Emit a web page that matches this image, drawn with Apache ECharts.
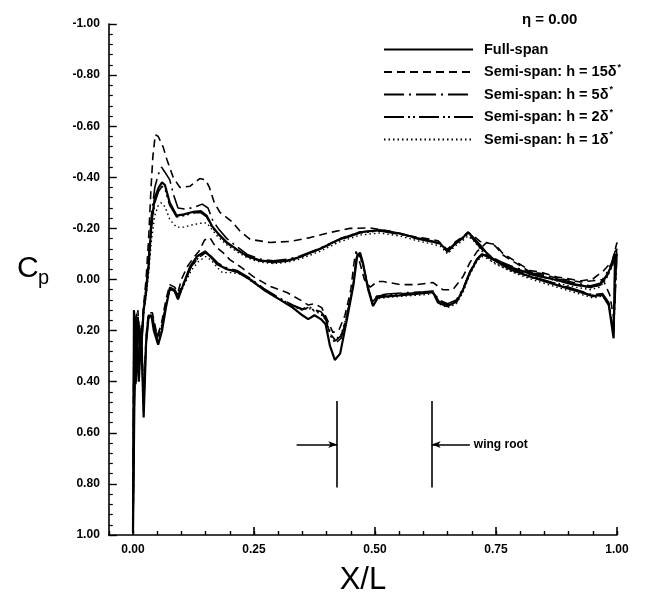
<!DOCTYPE html>
<html>
<head>
<meta charset="utf-8">
<script src="https://cdn.jsdelivr.net/npm/echarts@6/dist/echarts.min.js"></script>
<style>
  html, body { margin: 0; padding: 0; background: #fff; }
  #chart { width: 652px; height: 601px; }
</style>
</head>
<body>
<div id="chart"></div>
<script>
// 系列名称
var seriesNames = ['Full-span', 'Semi-span: h = 15δ*', 'Semi-span: h = 5δ*', 'Semi-span: h = 2δ*', 'Semi-span: h = 1δ*']
var xLabelValues = [0, 0.25, 0.5, 0.75, 1]

// [X/L, Cp]  upper / lower surface, leading edge -> trailing edge
var fullUpper = [[0, 0.99], [0.002, 0.12], [0.006, 0.40], [0.010, 0.15], [0.016, 0.30], [0.022, 0.12], [0.027, 0.05], [0.032, -0.05], [0.038, -0.22], [0.045, -0.32], [0.053, -0.36], [0.060, -0.38], [0.066, -0.37], [0.076, -0.30], [0.090, -0.25], [0.105, -0.255], [0.125, -0.265], [0.140, -0.268], [0.152, -0.25], [0.163, -0.21], [0.174, -0.184], [0.194, -0.145], [0.215, -0.117], [0.236, -0.092], [0.262, -0.075], [0.290, -0.068], [0.320, -0.075], [0.345, -0.088], [0.386, -0.12], [0.428, -0.158], [0.469, -0.185], [0.510, -0.193], [0.552, -0.18], [0.587, -0.162], [0.615, -0.150], [0.635, -0.14], [0.650, -0.11], [0.665, -0.14], [0.680, -0.16], [0.692, -0.185], [0.705, -0.16], [0.717, -0.135], [0.730, -0.105], [0.744, -0.08], [0.760, -0.065], [0.785, -0.045], [0.826, -0.02], [0.870, 0.0], [0.910, 0.018], [0.945, 0.03], [0.965, 0.02], [0.980, -0.02], [0.990, -0.06], [0.996, -0.10], [1.0, -0.10]]
var fullLower = [[0, 0.99], [0.003, 0.45], [0.007, 0.15], [0.012, 0.40], [0.017, 0.20], [0.022, 0.54], [0.027, 0.25], [0.032, 0.15], [0.038, 0.14], [0.043, 0.20], [0.052, 0.255], [0.060, 0.20], [0.068, 0.11], [0.076, 0.035], [0.086, 0.045], [0.093, 0.078], [0.100, 0.04], [0.108, 0.0], [0.118, -0.05], [0.132, -0.09], [0.149, -0.11], [0.160, -0.09], [0.174, -0.06], [0.194, -0.04], [0.215, -0.03], [0.242, 0.0], [0.270, 0.04], [0.300, 0.075], [0.330, 0.11], [0.350, 0.14], [0.362, 0.155], [0.375, 0.14], [0.388, 0.155], [0.398, 0.175], [0.407, 0.26], [0.417, 0.315], [0.428, 0.29], [0.442, 0.156], [0.455, 0.027], [0.463, -0.09], [0.469, -0.105], [0.475, -0.066], [0.486, 0.04], [0.496, 0.104], [0.506, 0.07], [0.525, 0.066], [0.550, 0.062], [0.590, 0.055], [0.620, 0.05], [0.630, 0.09], [0.649, 0.105], [0.669, 0.086], [0.682, 0.04], [0.696, -0.027], [0.711, -0.078], [0.721, -0.098], [0.731, -0.092], [0.744, -0.078], [0.760, -0.06], [0.785, -0.035], [0.820, -0.012], [0.855, 0.01], [0.890, 0.03], [0.925, 0.05], [0.950, 0.065], [0.970, 0.06], [0.983, 0.10], [0.993, 0.23], [1.0, -0.10]]

var h15Upper = [[0, 0.99], [0.002, 0.15], [0.006, 0.38], [0.010, 0.12], [0.016, 0.28], [0.022, 0.10], [0.027, 0.0], [0.032, -0.15], [0.037, -0.35], [0.041, -0.48], [0.046, -0.567], [0.052, -0.56], [0.062, -0.52], [0.070, -0.47], [0.083, -0.40], [0.097, -0.36], [0.118, -0.365], [0.138, -0.395], [0.150, -0.39], [0.158, -0.36], [0.168, -0.30], [0.180, -0.262], [0.204, -0.227], [0.221, -0.19], [0.242, -0.157], [0.283, -0.145], [0.324, -0.149], [0.366, -0.164], [0.407, -0.184], [0.448, -0.2], [0.490, -0.202], [0.530, -0.19], [0.565, -0.172], [0.600, -0.162], [0.630, -0.152], [0.649, -0.118], [0.668, -0.15], [0.682, -0.168], [0.692, -0.185], [0.705, -0.168], [0.717, -0.149], [0.735, -0.142], [0.748, -0.137], [0.765, -0.100], [0.793, -0.068], [0.820, -0.035], [0.841, -0.029], [0.876, -0.01], [0.903, -0.002], [0.924, 0.006], [0.950, -0.002], [0.971, -0.032], [0.990, -0.072], [1.0, -0.145]]
var h15Lower = [[0, 0.99], [0.003, 0.40], [0.007, 0.14], [0.012, 0.35], [0.017, 0.18], [0.022, 0.48], [0.027, 0.22], [0.032, 0.13], [0.040, 0.13], [0.050, 0.22], [0.058, 0.18], [0.068, 0.08], [0.076, 0.02], [0.086, 0.03], [0.093, 0.05], [0.100, 0.0], [0.112, -0.05], [0.125, -0.085], [0.136, -0.11], [0.148, -0.155], [0.159, -0.164], [0.170, -0.13], [0.186, -0.105], [0.200, -0.078], [0.221, -0.051], [0.248, -0.012], [0.283, 0.027], [0.318, 0.051], [0.351, 0.086], [0.362, 0.10], [0.375, 0.095], [0.390, 0.11], [0.402, 0.16], [0.413, 0.207], [0.425, 0.20], [0.438, 0.14], [0.450, 0.04], [0.457, -0.07], [0.461, -0.11], [0.468, -0.07], [0.478, 0.0], [0.490, 0.03], [0.505, 0.008], [0.517, 0.008], [0.552, 0.02], [0.587, 0.02], [0.620, 0.012], [0.640, 0.04], [0.661, 0.04], [0.682, -0.012], [0.696, -0.066], [0.711, -0.11], [0.731, -0.145], [0.748, -0.132], [0.765, -0.095], [0.793, -0.062], [0.820, -0.03], [0.841, -0.024], [0.876, -0.005], [0.903, 0.003], [0.924, 0.01], [0.950, 0.005], [0.971, 0.0], [0.985, 0.06], [0.993, 0.15], [1.0, -0.145]]

var h5Upper = [[0, 0.99], [0.002, 0.13], [0.006, 0.39], [0.010, 0.14], [0.016, 0.29], [0.022, 0.11], [0.027, 0.03], [0.032, -0.08], [0.038, -0.25], [0.045, -0.36], [0.052, -0.41], [0.059, -0.44], [0.066, -0.42], [0.076, -0.39], [0.084, -0.33], [0.093, -0.28], [0.110, -0.275], [0.130, -0.285], [0.143, -0.295], [0.155, -0.28], [0.165, -0.23], [0.176, -0.20], [0.194, -0.16], [0.215, -0.128], [0.236, -0.098], [0.262, -0.08], [0.290, -0.073], [0.320, -0.08], [0.345, -0.092], [0.386, -0.122], [0.428, -0.16], [0.469, -0.186], [0.510, -0.193], [0.552, -0.18], [0.587, -0.163], [0.615, -0.152], [0.635, -0.142], [0.650, -0.112], [0.665, -0.142], [0.680, -0.163], [0.692, -0.183], [0.705, -0.158], [0.717, -0.13], [0.730, -0.105], [0.744, -0.085], [0.760, -0.07], [0.785, -0.05], [0.826, -0.025], [0.870, -0.005], [0.910, 0.012], [0.945, 0.025], [0.965, 0.015], [0.980, -0.03], [0.990, -0.07], [0.996, -0.11], [1.0, -0.12]]
var h5Lower = [[0, 0.99], [0.003, 0.42], [0.007, 0.13], [0.012, 0.38], [0.017, 0.19], [0.022, 0.50], [0.027, 0.24], [0.032, 0.14], [0.040, 0.14], [0.050, 0.23], [0.058, 0.19], [0.068, 0.10], [0.076, 0.03], [0.086, 0.04], [0.093, 0.06], [0.100, 0.03], [0.110, -0.01], [0.120, -0.05], [0.135, -0.085], [0.150, -0.105], [0.162, -0.09], [0.175, -0.065], [0.194, -0.045], [0.215, -0.035], [0.242, -0.005], [0.270, 0.035], [0.300, 0.07], [0.330, 0.10], [0.350, 0.115], [0.362, 0.105], [0.376, 0.12], [0.388, 0.125], [0.398, 0.15], [0.408, 0.21], [0.418, 0.24], [0.430, 0.22], [0.442, 0.14], [0.455, 0.02], [0.462, -0.09], [0.468, -0.10], [0.475, -0.06], [0.486, 0.03], [0.494, 0.085], [0.505, 0.062], [0.525, 0.057], [0.560, 0.052], [0.600, 0.048], [0.620, 0.045], [0.632, 0.08], [0.650, 0.095], [0.668, 0.08], [0.682, 0.035], [0.696, -0.03], [0.710, -0.08], [0.721, -0.1], [0.735, -0.09], [0.750, -0.075], [0.785, -0.04], [0.820, -0.015], [0.855, 0.005], [0.890, 0.025], [0.925, 0.045], [0.950, 0.06], [0.970, 0.055], [0.983, 0.09], [0.993, 0.2], [1.0, -0.12]]

var h2Upper = [[0, 0.99], [0.002, 0.12], [0.006, 0.41], [0.010, 0.15], [0.016, 0.31], [0.022, 0.12], [0.027, 0.05], [0.032, -0.04], [0.038, -0.2], [0.045, -0.30], [0.053, -0.345], [0.060, -0.365], [0.066, -0.355], [0.076, -0.29], [0.090, -0.245], [0.105, -0.25], [0.125, -0.26], [0.140, -0.262], [0.152, -0.245], [0.163, -0.205], [0.174, -0.18], [0.194, -0.142], [0.215, -0.115], [0.236, -0.09], [0.262, -0.073], [0.290, -0.066], [0.320, -0.073], [0.345, -0.086], [0.386, -0.118], [0.428, -0.155], [0.469, -0.182], [0.510, -0.19], [0.552, -0.177], [0.587, -0.16], [0.615, -0.148], [0.635, -0.138], [0.650, -0.108], [0.665, -0.138], [0.680, -0.158], [0.692, -0.178], [0.705, -0.153], [0.717, -0.125], [0.730, -0.1], [0.744, -0.078], [0.760, -0.062], [0.785, -0.043], [0.826, -0.018], [0.870, 0.002], [0.910, 0.02], [0.945, 0.032], [0.965, 0.022], [0.980, -0.015], [0.990, -0.055], [0.996, -0.09], [1.0, -0.1]]
var h2Lower = [[0, 0.99], [0.003, 0.44], [0.007, 0.14], [0.012, 0.39], [0.017, 0.2], [0.022, 0.52], [0.027, 0.25], [0.032, 0.15], [0.040, 0.145], [0.050, 0.24], [0.058, 0.2], [0.068, 0.105], [0.076, 0.032], [0.086, 0.042], [0.093, 0.07], [0.100, 0.035], [0.110, -0.005], [0.120, -0.048], [0.135, -0.085], [0.150, -0.105], [0.162, -0.088], [0.175, -0.062], [0.194, -0.042], [0.215, -0.032], [0.242, -0.002], [0.270, 0.037], [0.300, 0.072], [0.330, 0.102], [0.350, 0.118], [0.362, 0.11], [0.376, 0.122], [0.388, 0.13], [0.398, 0.155], [0.408, 0.22], [0.418, 0.25], [0.430, 0.23], [0.442, 0.145], [0.455, 0.022], [0.462, -0.088], [0.468, -0.1], [0.475, -0.062], [0.486, 0.035], [0.494, 0.09], [0.505, 0.065], [0.525, 0.06], [0.560, 0.055], [0.600, 0.05], [0.620, 0.047], [0.632, 0.085], [0.650, 0.1], [0.668, 0.085], [0.682, 0.038], [0.696, -0.03], [0.710, -0.08], [0.721, -0.098], [0.735, -0.088], [0.750, -0.072], [0.785, -0.038], [0.820, -0.013], [0.855, 0.008], [0.890, 0.028], [0.925, 0.048], [0.950, 0.062], [0.970, 0.058], [0.983, 0.095], [0.993, 0.21], [1.0, -0.1]]

var h1Upper = [[0, 0.99], [0.002, 0.13], [0.006, 0.38], [0.010, 0.15], [0.016, 0.29], [0.022, 0.13], [0.027, 0.07], [0.032, -0.02], [0.038, -0.15], [0.045, -0.25], [0.052, -0.29], [0.058, -0.30], [0.066, -0.285], [0.076, -0.235], [0.090, -0.205], [0.105, -0.205], [0.125, -0.215], [0.140, -0.22], [0.152, -0.222], [0.163, -0.196], [0.174, -0.17], [0.194, -0.135], [0.215, -0.108], [0.236, -0.085], [0.262, -0.068], [0.290, -0.062], [0.320, -0.068], [0.345, -0.08], [0.386, -0.11], [0.428, -0.148], [0.469, -0.174], [0.510, -0.182], [0.552, -0.17], [0.587, -0.152], [0.615, -0.14], [0.635, -0.13], [0.650, -0.10], [0.665, -0.13], [0.680, -0.15], [0.692, -0.17], [0.705, -0.15], [0.717, -0.12], [0.730, -0.09], [0.744, -0.065], [0.760, -0.05], [0.785, -0.03], [0.826, -0.005], [0.870, 0.012], [0.910, 0.028], [0.945, 0.04], [0.965, 0.03], [0.980, -0.01], [0.990, -0.05], [0.996, -0.08], [1.0, -0.08]]
var h1Lower = [[0, 0.99], [0.003, 0.43], [0.007, 0.13], [0.012, 0.36], [0.017, 0.19], [0.022, 0.47], [0.027, 0.24], [0.032, 0.15], [0.040, 0.15], [0.050, 0.25], [0.058, 0.21], [0.068, 0.11], [0.076, 0.04], [0.086, 0.05], [0.093, 0.075], [0.100, 0.045], [0.110, 0.005], [0.120, -0.035], [0.135, -0.07], [0.150, -0.09], [0.162, -0.075], [0.175, -0.045], [0.185, -0.027], [0.205, -0.027], [0.225, -0.02], [0.242, 0.003], [0.270, 0.04], [0.300, 0.075], [0.330, 0.105], [0.350, 0.12], [0.362, 0.112], [0.376, 0.125], [0.388, 0.135], [0.398, 0.16], [0.408, 0.215], [0.418, 0.235], [0.430, 0.215], [0.442, 0.14], [0.455, 0.025], [0.462, -0.08], [0.468, -0.09], [0.475, -0.055], [0.486, 0.04], [0.494, 0.095], [0.505, 0.075], [0.525, 0.07], [0.560, 0.065], [0.600, 0.06], [0.620, 0.055], [0.632, 0.095], [0.650, 0.11], [0.668, 0.095], [0.682, 0.05], [0.696, -0.02], [0.710, -0.07], [0.721, -0.09], [0.735, -0.08], [0.750, -0.062], [0.785, -0.028], [0.820, -0.003], [0.855, 0.018], [0.890, 0.038], [0.925, 0.058], [0.950, 0.072], [0.970, 0.065], [0.983, 0.1], [0.993, 0.2], [1.0, -0.08]]

// wing root 标注
var wingRootX = [0.422, 0.617]
var wingRootCp = [0.476, 0.814]
var arrowCp = 0.646
var arrowFrom = [0.338, 0.696]

var FONT = '"Liberation Sans", Arial, Helvetica, sans-serif'

function loop(upper, lower) {
  // 上表面 LE->TE，下表面 TE->LE
  return upper.concat(lower.slice().reverse())
}

var curves = [
  { data: loop(fullUpper, fullLower), dash: 'solid', width: 2.2 },
  { data: loop(h15Upper, h15Lower), dash: [8, 5], width: 1.6 },
  { data: loop(h5Upper, h5Lower), dash: [20, 5, 2, 5], width: 1.6 },
  { data: loop(h2Upper, h2Lower), dash: [20, 4, 2, 3, 2, 4], width: 1.6 },
  { data: loop(h1Upper, h1Lower), dash: [1.5, 3], width: 1.4 }
]

var series = curves.map(function (c, i) {
  return {
    name: seriesNames[i],
    type: 'line',
    data: c.data,
    symbol: 'none',
    smooth: false,
    silent: true,
    z: 10 - i,
    itemStyle: { color: '#000' },
    lineStyle: { color: '#000', width: c.width, type: c.dash }
  }
})

series.push({
  type: 'line',
  data: [],
  symbol: 'none',
  silent: true,
  markLine: {
    silent: true,
    symbol: 'none',
    lineStyle: { color: '#000', width: 1.6, type: 'solid' },
    label: { show: false },
    data: [
      [{ coord: [wingRootX[0], wingRootCp[0]] }, { coord: [wingRootX[0], wingRootCp[1]] }],
      [{ coord: [wingRootX[1], wingRootCp[0]] }, { coord: [wingRootX[1], wingRootCp[1]] }],
      [{ coord: [arrowFrom[0], arrowCp], symbol: 'none' }, { coord: [wingRootX[0], arrowCp], symbol: 'arrow', symbolSize: [5, 9] }],
      [{ coord: [arrowFrom[1], arrowCp], symbol: 'none',
         label: { show: true, position: 'start', formatter: 'wing root', color: '#000', fontSize: 12, fontWeight: 'bold', fontFamily: FONT, distance: 4 } },
       { coord: [wingRootX[1], arrowCp], symbol: 'arrow', symbolSize: [5, 9] }]
    ]
  }
})

var axisFont = { color: '#000', fontSize: 12, fontWeight: 'bold', fontFamily: FONT }

var option = {
  backgroundColor: '#fff',
  animation: false,
  title: {
    text: 'η = 0.00',
    left: 517,
    top: 7,
    textStyle: { fontSize: 15, fontWeight: 'bold', fontFamily: FONT, color: '#000' }
  },
  legend: {
    orient: 'vertical',
    left: 378,
    top: 37,
    itemWidth: 89,
    itemHeight: 14,
    itemGap: 6,
    selectedMode: false,
    data: seriesNames,
    itemStyle: { opacity: 0 },
    formatter: function (name) {
      return name.replace('δ*', 'δ{sup|*}')
    },
    textStyle: {
      color: '#000', fontSize: 14.5, fontWeight: 'bold', fontFamily: FONT,
      padding: [0, 0, 0, 6],
      rich: {
        sup: { fontSize: 9, fontWeight: 'bold', fontFamily: FONT, color: '#000', verticalAlign: 'top', padding: [0, 0, 9, 1] }
      }
    }
  },
  grid: { left: 108.8, right: 35, top: 24, bottom: 66, containLabel: false, outerBoundsMode: 'none' },
  xAxis: [
    {
      type: 'value',
      min: -0.05,
      max: 1,
      interval: 0.05,
      name: 'X/L',
      nameLocation: 'middle',
      nameGap: 30,
      nameTextStyle: { color: '#000', fontSize: 31, fontFamily: FONT },
      splitLine: { show: false },
      axisLine: { onZero: false, lineStyle: { color: '#000', width: 1.6 } },
      axisTick: { inside: true, length: 4, lineStyle: { color: '#000', width: 1.4 } },
      axisLabel: Object.assign({
        margin: 9,
        formatter: function (v) {
          var q = v * 4
          if (v > -1e-6 && Math.abs(q - Math.round(q)) < 1e-6) return v.toFixed(2)
          return ''
        }
      }, axisFont)
    },
    {
      type: 'value',
      min: -0.05,
      max: 1,
      interval: 0.05,
      position: 'bottom',
      splitLine: { show: false },
      axisLine: { show: false, onZero: false },
      axisLabel: { show: false },
      axisTick: { inside: true, length: 8, customValues: xLabelValues, lineStyle: { color: '#000', width: 1.6 } }
    }
  ],
  yAxis: {
    type: 'value',
    inverse: true,
    min: -1,
    max: 1,
    interval: 0.2,
    splitLine: { show: false },
    axisLine: { onZero: false, lineStyle: { color: '#000', width: 1.6 } },
    axisTick: { inside: true, length: 8, lineStyle: { color: '#000', width: 1.4 } },
    minorTick: { show: true, splitNumber: 5, length: 4, lineStyle: { color: '#000', width: 1.2 } },
    axisLabel: Object.assign({
      margin: 9,
      formatter: function (v) { return v.toFixed(2) }
    }, axisFont)
  },
  graphic: [
    { type: 'text', left: 17, top: 254, style: { text: 'C', font: '30px ' + FONT, fill: '#000' } },
    { type: 'text', left: 38, top: 268, style: { text: 'p', font: '20px ' + FONT, fill: '#000' } }
  ],
  series: series
}

var myChart = echarts.init(document.getElementById('chart'), null, { renderer: 'canvas' })
myChart.setOption(option)
</script>
</body>
</html>
